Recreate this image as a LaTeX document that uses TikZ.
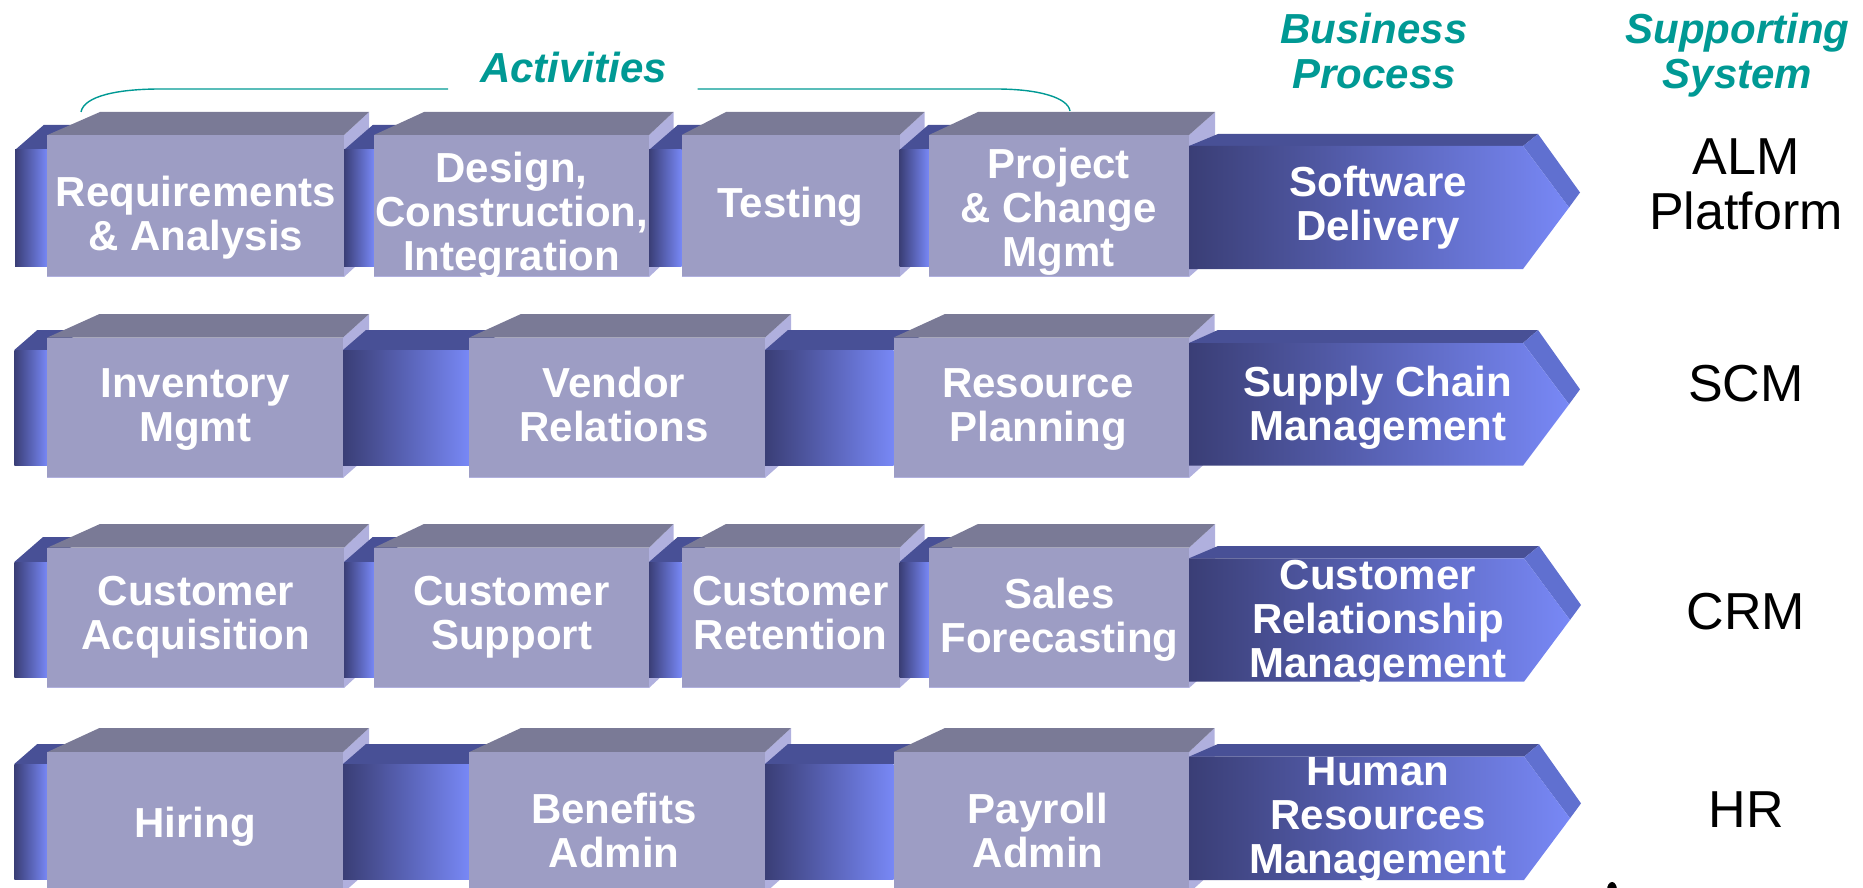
\documentclass[tikz,border=0pt]{standalone}
\usepackage{fontspec}
\setmainfont{Liberation Sans}
\definecolor{pd}{RGB}{58,62,118}
\definecolor{pl}{RGB}{120,136,246}
\definecolor{ptop}{RGB}{72,80,150}
\definecolor{bfront}{RGB}{157,157,196}
\definecolor{btop}{RGB}{122,122,150}
\definecolor{bside}{RGB}{176,176,222}
\definecolor{abevel}{RGB}{96,112,208}
\definecolor{hteal}{RGB}{0,153,148}
\newcommand{\mylines}[1]{\begin{tabular}{@{}c@{}}#1\end{tabular}}
% plank segment: x-left, x-right, PT, PF, PB
\newcommand{\myplank}[5]{%
  \fill[ptop] ({#1},{#4}) -- ({#1+1.15*(#4-#3)},{#3}) -- ({#2+40},{#3}) -- ({#2},{#4}) -- cycle;
  \shade[left color=pd, right color=pl] ({#1},{#4}) rectangle ({#2},{#5});
}
% box: FL, FR, BL, BR, BT, FT, BB
\newcommand{\mybox}[7]{%
  \fill[bside] ({#2},{#6}) -- ({#4},{#5}) -- ({#4},{#7-23}) -- ({#2},{#7}) -- cycle;
  \fill[btop] ({#1},{#6}) -- ({#3},{#5}) -- ({#4},{#5}) -- ({#2},{#6}) -- cycle;
  \fill[bfront] ({#1},{#6}) rectangle ({#2},{#7});
  \draw[bside, line width=1.2pt] ({#1},{#7-0.6}) -- ({#2},{#7-0.6});
}
% arrow: AT, AF, AB, R, name, cap-top, text
\newcommand{\myarrow}[7]{%
  \fill[ptop] (1189,{#2}) -- (1218,{#1}) -- ({#4+15},{#1}) -- ({#4},{#2}) -- cycle;
  \fill[abevel] ({#4},{#2}) -- ({#4+15},{#1}) -- ({#4+57},{(#2+#3)/2-15}) -- ({#4+46},{(#2+#3)/2}) -- cycle;
  \shade[left color=pd, right color=pl] (1189,{#2}) -- ({#4},{#2}) -- ({#4+46},{(#2+#3)/2}) -- ({#4},{#3}) -- (1189,{#3}) -- cycle;
  \begin{scope}
    \clip (1189,{#2}) -- ({#4},{#2}) -- ({#4+46},{(#2+#3)/2}) -- ({#4},{#3}) -- (1189,{#3}) -- cycle;
    \node[btext] (#5) at (1378,{#6-0.7}) {\mylines{#7}};
  \end{scope}
}
\begin{document}
\begin{tikzpicture}[x=1pt,y=-1pt,
  btext/.style={font=\bfseries\fontsize{42}{44}\selectfont, text=white, inner sep=0pt, anchor=north},
  htext/.style={font=\bfseries\itshape\fontsize{42}{45}\selectfont, text=hteal, inner sep=0pt, anchor=north},
  stext/.style={font=\fontsize{52}{55}\selectfont, text=black, inner sep=0pt, anchor=north},
  brace/.style={draw=hteal, line width=1.4pt}]
\useasboundingbox (0,0) rectangle (1863,888);
\clip (0,0) rectangle (1863,888);

% ---------- headers ----------
\node[htext] (hact) at (573.5,52) {Activities};
\node[htext] (hbp) at (1374,11.6) {\mylines{Business\\Process}};
\node[htext] (hss) at (1737.5,11.6) {\mylines{Supporting\\System}};
\coordinate (bl0) at (81,112);
\coordinate (bl1) at (160,89);
\coordinate (bl2) at (448,89);
\coordinate (br0) at (697.5,89);
\coordinate (br1) at (996,89);
\coordinate (br2) at (1070,111);
\draw[brace] (bl0) .. controls (84,96) and (118,89) .. (bl1) -- (bl2);
\draw[brace] (br0) -- (br1) .. controls (1040,89) and (1068,98) .. (br2);

% ---------- row 1 ----------
\myplank{15}{47.4}{125}{150}{266}
\mybox{47.4}{344}{100}{369}{112}{135}{277}
\myplank{344}{374}{125}{150}{266}
\mybox{374}{649}{424}{673.5}{112}{135}{277}
\myplank{649}{681.6}{125}{150}{266}
\mybox{681.6}{899.5}{726}{924.5}{112}{135}{277}
\myplank{899.5}{929}{125}{150}{266}
\mybox{929}{1189}{978}{1215}{112}{135}{277}
\node[btext] (r1a) at (196,175) {\mylines{Requirements\\\& Analysis}};
\node[btext] (r1b) at (511.5,151) {\mylines{Design,\\Construction,\\Integration}};
\node[btext] (r1c) at (790.5,186) {\mylines{Testing}};
\node[btext] (r1d) at (1058.5,147) {\mylines{Project\\\& Change\\Mgmt}};
\myarrow{134}{146}{269}{1523}{r1p}{166}{Software\\Delivery}
\node[stext] (r1s) at (1746,135.4) {\mylines{ALM\\Platform}};

% ---------- row 2 ----------
\myplank{14.3}{47.4}{330}{350}{465}
\mybox{47.4}{343}{99.5}{369}{314}{337.5}{478}
\myplank{343}{469.4}{330}{350}{465}
\mybox{469.4}{765}{521}{791}{314}{337.5}{478}
\myplank{765}{893.6}{330}{350}{465}
\mybox{893.6}{1189}{945}{1214.5}{314}{337.5}{478}
\node[btext] (r2a) at (195,366) {\mylines{Inventory\\Mgmt}};
\node[btext] (r2b) at (614,366) {\mylines{Vendor\\Relations}};
\node[btext] (r2c) at (1038,366) {\mylines{Resource\\Planning}};
\myarrow{330}{343}{465.7}{1523}{r2p}{365.7}{Supply Chain\\Management}
\node[stext] (r2s) at (1746,363) {\mylines{SCM}};

% ---------- row 3 ----------
\myplank{14.3}{47.4}{537}{562}{677}
\mybox{47.4}{344}{100}{369}{524}{547.7}{688}
\myplank{344}{374}{537}{562}{677}
\mybox{374}{649}{424}{673.5}{524}{547.7}{688}
\myplank{649}{681.6}{537}{562}{677}
\mybox{681.6}{899.5}{726}{924.5}{524}{547.7}{688}
\myplank{899.5}{929}{537}{562}{677}
\mybox{929}{1189}{978}{1215}{524}{547.7}{688}
\node[btext] (r3a) at (195.7,574.3) {\mylines{Customer\\Acquisition}};
\node[btext] (r3b) at (511.5,574.3) {\mylines{Customer\\Support}};
\node[btext] (r3c) at (790.5,574.3) {\mylines{Customer\\Retention}};
\node[btext] (r3d) at (1059.5,577.6) {\mylines{Sales\\Forecasting}};
\myarrow{546}{558.3}{681.7}{1524}{r3p}{559}{Customer\\Relationship\\Management}
\node[stext] (r3s) at (1746,590.4) {\mylines{CRM}};

% ---------- row 4 ----------
\myplank{14.3}{47.4}{744}{764}{879}
\mybox{47.4}{343}{99.5}{369}{728}{752}{893}
\myplank{343}{469.4}{744}{764}{879}
\mybox{469.4}{765}{521}{791}{728}{752}{893}
\myplank{765}{893.6}{744}{764}{879}
\mybox{893.6}{1189}{945}{1214.5}{728}{752}{893}
\node[btext] (r4a) at (195,806.6) {\mylines{Hiring}};
\node[btext] (r4b) at (614,792) {\mylines{Benefits\\Admin}};
\node[btext] (r4c) at (1038,792) {\mylines{Payroll\\Admin}};
\myarrow{744}{756.7}{880}{1524}{r4p}{755}{Human\\Resources\\Management}
\node[stext] (r4s) at (1746,788.7) {\mylines{HR}};

% stray mark at bottom edge
\fill[black] (1612,890) ellipse [x radius=5, y radius=8];
\end{tikzpicture}
\end{document}
